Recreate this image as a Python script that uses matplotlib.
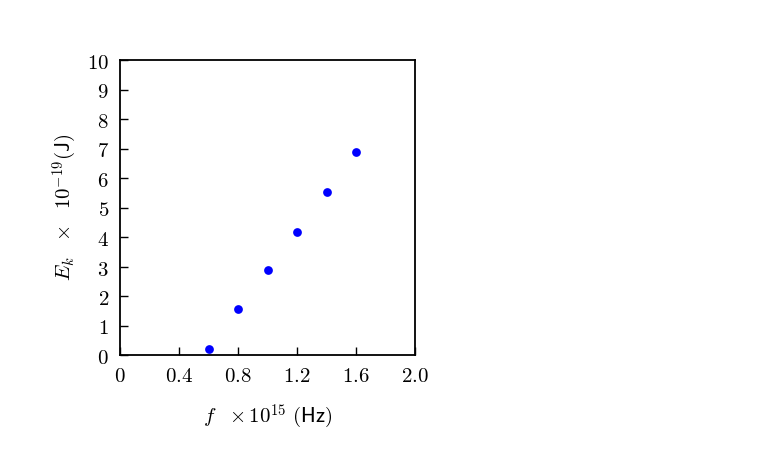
import matplotlib
matplotlib.use("Agg")
import matplotlib.pyplot as plt
from matplotlib.ticker import FixedLocator, FixedFormatter

plt.rcParams['mathtext.fontset'] = 'cm'
plt.rcParams['font.family'] = ['DejaVu Sans']

freq = [0.6, 0.8, 1.0, 1.2, 1.4, 1.6]
energy = [0.21, 1.56, 2.88, 4.18, 5.52, 6.88]
xticks = [0, 0.4, 0.8, 1.2, 1.6, 2.0]
xticklabels = ["0", "0.4", "0.8", "1.2", "1.6", "2.0"]
yticks = list(range(0, 11))
yticklabels = [str(v) for v in yticks]

fig = plt.figure(figsize=(7.72, 4.77), dpi=100)
ax = fig.add_axes([120/772, 1-356/477, 295/772, 295/477])
ax.plot(freq, energy, 'o', color='#0000ff', markersize=6.3, markeredgewidth=0)
ax.set_xlim(0, 2.0)
ax.set_ylim(0, 10)
ax.xaxis.set_major_locator(FixedLocator(xticks))
ax.xaxis.set_major_formatter(FixedFormatter(["$%s$" % s for s in xticklabels]))
ax.yaxis.set_major_locator(FixedLocator(yticks))
ax.yaxis.set_major_formatter(FixedFormatter(["$%s$" % s for s in yticklabels]))
ax.tick_params(direction='in', length=6, width=1, labelsize=15, top=False, right=False)
ax.tick_params(axis='x', pad=7)
ax.tick_params(axis='y', pad=8)
for s in ax.spines.values():
    s.set_linewidth(1.3)

ax.set_xlabel(r"$f\ \ \times 10^{15}\ \mathsf{(Hz)}$", fontsize=15)
ax.set_ylabel(r"$E_k\ \ \times\ \ 10^{-19}\mathsf{(J)}$", fontsize=15)
ax.xaxis.set_label_coords(0.5, -0.158)
ax.yaxis.set_label_coords(-0.138, 0.503)

fig.savefig("out.png", dpi=100)
